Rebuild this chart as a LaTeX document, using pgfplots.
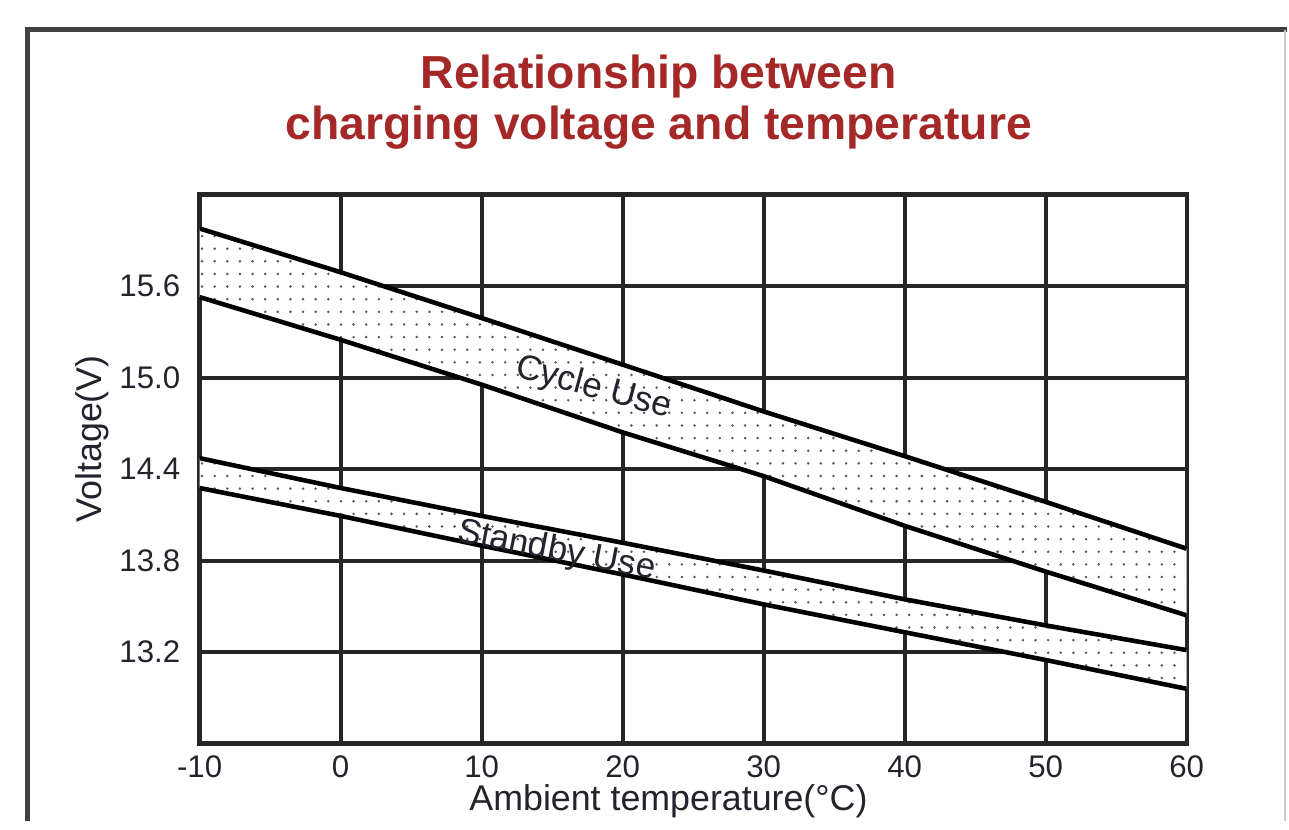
\documentclass[border=0pt]{standalone}
\usepackage{fontspec}
\setmainfont{Liberation Sans}
\usepackage{pgfplots}
\pgfplotsset{compat=1.18}
\usepgfplotslibrary{fillbetween}
\usetikzlibrary{patterns}

\definecolor{titlered}{RGB}{165,40,40}
\definecolor{txt}{RGB}{35,35,45}

% sparse stipple for the bands
\pgfdeclarepatternformonly{sparsedots}{\pgfqpoint{-0.5pt}{-0.5pt}}{\pgfqpoint{3pt}{3pt}}{\pgfqpoint{3.6pt}{3.6pt}}%
{\pgfpathcircle{\pgfqpoint{0pt}{0pt}}{0.4pt}\pgfusepath{fill}}

\begin{document}
\begin{tikzpicture}
\path (0mm,0mm) rectangle (128.9mm,82.4mm);
% outer frame
\draw[line width=0.5mm, black!75] (2.8mm,0.1mm) -- (2.8mm,79.4mm) -- (128.9mm,79.4mm);
\draw[line width=0.2mm, black!20] (128.7mm,79.4mm) -- (128.7mm,0.1mm);

\node[titlered, font=\bfseries\fontsize{13.2}{14.6}\selectfont, align=center] at (66mm,72.2mm)
  {Relationship between\\charging voltage and temperature};

\begin{axis}[
    at={(20mm,7.9mm)}, anchor=south west,
    scale only axis,
    width=98.9mm, height=55mm,
    xmin=-10, xmax=60,
    ymin=12.6, ymax=16.2,
    xtick={-10,0,...,60},
    ytick={13.2,13.8,14.4,15.0,15.6},
    grid=major,
    major grid style={black!85, line width=1.15pt},
    axis line style={black!85, line width=1.25pt},
    major tick length=0pt,
    /pgf/number format/assume math mode=true,
    tick label style={font=\fontsize{8.9}{10}\selectfont, txt},
    yticklabel style={/pgf/number format/fixed, /pgf/number format/fixed zerofill,
                      /pgf/number format/precision=1, xshift=-0.7mm},
    xlabel={Ambient temperature(°C)},
    ylabel={Voltage(V)},
    label style={font=\fontsize{10.2}{11}\selectfont, txt},
    xlabel style={at={(axis description cs:0.475,-0.105)}, anchor=center},
    ylabel style={at={(axis description cs:-0.109,0.555)}, anchor=center},
]
% cycle use band
\addplot[name path=cu, black, line width=1.3pt] coordinates {
  (-10,15.978) (0,15.691) (10,15.391) (20,15.085) (30,14.778) (40,14.485) (50,14.185) (60,13.878)
};
\addplot[name path=cl, black, line width=1.3pt] coordinates {
  (-10,15.528) (0,15.248) (10,14.954) (20,14.641) (30,14.354) (40,14.028) (50,13.728) (60,13.441)
};
% standby use band
\addplot[name path=su, black, line width=1.3pt] coordinates {
  (-10,14.472) (0,14.276) (10,14.093) (20,13.917) (30,13.735) (40,13.546) (50,13.375) (60,13.213)
};
\addplot[name path=sl, black, line width=1.3pt] coordinates {
  (-10,14.276) (0,14.093) (10,13.898) (20,13.709) (30,13.513) (40,13.330) (50,13.148) (60,12.959)
};

\pgfonlayer{pre main}
\addplot[fill=white, draw=none] fill between[of=cu and cl];
\addplot[pattern=sparsedots, pattern color=black!65, draw=none] fill between[of=cu and cl];
\addplot[fill=white, draw=none] fill between[of=su and sl];
\addplot[pattern=sparsedots, pattern color=black!65, draw=none] fill between[of=su and sl];
\endpgfonlayer

\node[rotate=-15, txt, font=\fontsize{10}{11}\selectfont] at (axis cs:17.95,14.93) {Cycle Use};
\node[rotate=-11, txt, font=\fontsize{10}{11}\selectfont] at (axis cs:15.3,13.86) {Standby Use};
\end{axis}
\end{tikzpicture}
\end{document}
